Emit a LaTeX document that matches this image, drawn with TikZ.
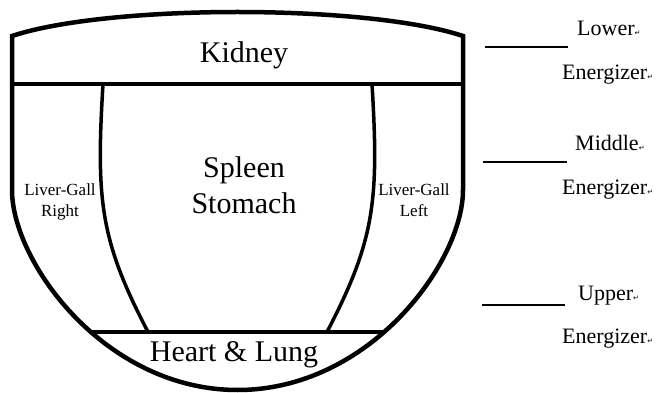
\documentclass[tikz,border=0pt]{standalone}
\usepackage{fontspec}
\setmainfont{Liberation Serif}
\newfontfamily\symfont{DejaVu Sans}
\newcommand{\retmark}{{\symfont\fontsize{7}{7}\selectfont ↵}}
\tikzset{
  organ/.style={font=\fontsize{30}{36}\selectfont, align=center},
  side/.style={font=\fontsize{17}{21}\selectfont, align=center},
  level/.style={font=\fontsize{22}{26}\selectfont, anchor=base west, inner sep=0pt}
}
\begin{document}
\begin{tikzpicture}[x=1pt,y=-1pt]
\useasboundingbox (0,0) rectangle (665,393);
\coordinate (A) at (12,84);
\coordinate (B) at (463,84);
\coordinate (C) at (92,332);
\coordinate (D) at (383,332);
\coordinate (E) at (103,84);
\coordinate (F) at (148,332);
\coordinate (G) at (372,84);
\coordinate (H) at (327,332);
\draw [line width=4.5] (12,36) -- (12,190) .. controls (12,262) and (105,390) .. (237.5,390)
  .. controls (370,390) and (463,262) .. (463,190) -- (463,36)
  .. controls (415,20) and (325,12) .. (237.5,12) .. controls (150,12) and (60,20) .. (12,36) -- cycle;
\draw [line width=4] (A) -- (B);
\draw [line width=4] (C) -- (D);
\draw [line width=3.5] (E) .. controls (96,200) and (100,240) .. (F);
\draw [line width=3.5] (G) .. controls (379,200) and (375,240) .. (H);
\node [organ] (K) at (244,55) {Kidney};
\node [organ] (S) at (244,185) {Spleen\\Stomach};
\node [organ] (HL) at (234,355) {Heart \& Lung};
\node [side] (R) at (60,201.5) {Liver-Gall\\Right};
\node [side] (L) at (414,200) {Liver-Gall\\Left};
\coordinate (P1) at (485,47);
\coordinate (Q1) at (568,47);
\coordinate (P2) at (483,162);
\coordinate (Q2) at (567,162);
\coordinate (P3) at (482,305);
\coordinate (Q3) at (565,305);
\draw [line width=1.5] (P1) -- (Q1);
\draw [line width=1.5] (P2) -- (Q2);
\draw [line width=1.5] (P3) -- (Q3);
\node [level] (LW) at (577,36) {Lower\retmark};
\node [level] (E1) at (562,80) {Energizer\retmark};
\node [level] (MD) at (575,151) {Middle\retmark};
\node [level] (E2) at (562,195) {Energizer\retmark};
\node [level] (UP) at (578,301) {Upper\retmark};
\node [level] (E3) at (562,343) {Energizer\retmark};
\end{tikzpicture}
\end{document}
